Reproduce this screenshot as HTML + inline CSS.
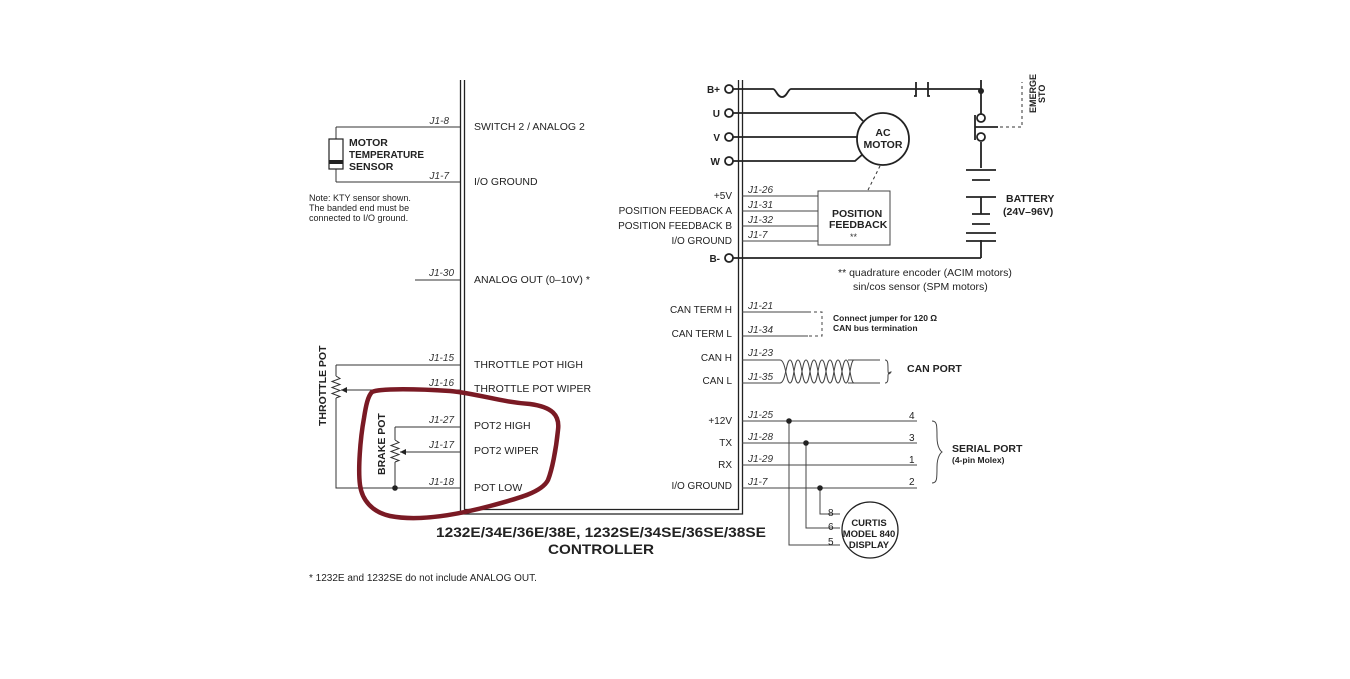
<!DOCTYPE html>
<html><head><meta charset="utf-8"><style>
html,body{margin:0;padding:0;background:#fff;}
svg{display:block;font-family:"Liberation Sans",Arial,sans-serif;}
.l{font-size:10.5px;fill:#222;}
.j{font-size:10px;font-style:italic;fill:#333;}
.b{font-size:10.5px;font-weight:bold;fill:#222;}
</style></head><body>
<svg width="1350" height="679" viewBox="0 0 1350 679" xmlns="http://www.w3.org/2000/svg">
<g stroke="#222" fill="none" stroke-width="1.3">
<path d="M460.5 80V514H742.5V80"/>
<path d="M464.5 80V509.5H738.5V80"/>
</g>
<g stroke="#333" stroke-width="1" fill="none">
<line x1="336" y1="127" x2="460" y2="127"/>
<line x1="336" y1="182" x2="460" y2="182"/>
<line x1="336" y1="127" x2="336" y2="182"/>
<line x1="415" y1="280" x2="460" y2="280"/>
<path d="M336 365H460M341 390H460M336 365V376M336 398V488H460"/>
<path d="M336 376l4 2.5-8 3 8 3-8 3 8 3-8 3 8 3-4 1.5"/>
<path d="M395 427H460M400 452H460M395 427V440M395 462V488"/>
<path d="M395 440l4 2.5-8 3 8 3-8 3 8 3-8 3 8 3-4 1.5"/>
</g>
<polygon points="341,390 347,387 347,393" fill="#222"/>
<polygon points="400,452 406,449 406,455" fill="#222"/>
<circle cx="395" cy="488" r="2.8" fill="#222"/>
<rect x="329" y="139" width="14" height="30" fill="#fff" stroke="#222" stroke-width="1.2"/>
<rect x="329" y="160" width="14" height="4" fill="#222"/>
<text class="b" x="349" y="146">MOTOR</text>
<text class="b" x="349" y="158" textLength="75" lengthAdjust="spacingAndGlyphs">TEMPERATURE</text>
<text class="b" x="349" y="170">SENSOR</text>
<text x="309" y="201" style="font-size:9px" fill="#222">Note:  KTY sensor shown.</text>
<text x="309" y="211" style="font-size:9px" fill="#222">The banded end must be</text>
<text x="309" y="221" style="font-size:9px" fill="#222">connected to I/O ground.</text>
<text class="j" x="449" y="124" text-anchor="end">J1-8</text>
<text class="j" x="449" y="179" text-anchor="end">J1-7</text>
<text class="j" x="454" y="276" text-anchor="end">J1-30</text>
<text class="j" x="454" y="361" text-anchor="end">J1-15</text>
<text class="j" x="454" y="386" text-anchor="end">J1-16</text>
<text class="j" x="454" y="423" text-anchor="end">J1-27</text>
<text class="j" x="454" y="448" text-anchor="end">J1-17</text>
<text class="j" x="454" y="485" text-anchor="end">J1-18</text>
<text class="b" transform="translate(326,426) rotate(-90)">THROTTLE POT</text>
<text class="b" transform="translate(385,475) rotate(-90)">BRAKE POT</text>
<text class="l" x="474" y="130">SWITCH 2 / ANALOG 2</text>
<text class="l" x="474" y="185">I/O GROUND</text>
<text class="l" x="474" y="283">ANALOG OUT (0–10V) *</text>
<text class="l" x="474" y="368">THROTTLE POT HIGH</text>
<text class="l" x="474" y="392">THROTTLE POT WIPER</text>
<text class="l" x="474" y="429">POT2 HIGH</text>
<text class="l" x="474" y="454">POT2 WIPER</text>
<text class="l" x="474" y="491">POT LOW</text>
<g class="b" text-anchor="end" style="font-size:10px">
<text x="720" y="93">B+</text><text x="720" y="117">U</text><text x="720" y="141">V</text><text x="720" y="165">W</text><text x="720" y="262">B-</text>
</g>
<g class="l" text-anchor="end" style="font-size:10px">
<text x="732" y="199">+5V</text>
<text x="732" y="214">POSITION FEEDBACK A</text>
<text x="732" y="229">POSITION FEEDBACK B</text>
<text x="732" y="244">I/O GROUND</text>
<text x="732" y="313">CAN TERM H</text>
<text x="732" y="337">CAN TERM L</text>
<text x="732" y="361">CAN H</text>
<text x="732" y="384">CAN L</text>
<text x="732" y="424">+12V</text>
<text x="732" y="446">TX</text>
<text x="732" y="468">RX</text>
<text x="732" y="489">I/O GROUND</text>
</g>
<g stroke="#222" stroke-width="1.8" fill="#fff">
<line x1="733" y1="89" x2="773" y2="89"/>
<path d="M773 89c3 0 4 8 9 8s6-8 9-8H916" fill="none"/>
<path d="M916 82v14h-2M928 82v14h2M916 89H928" fill="none"/>
<line x1="928" y1="89" x2="981" y2="89"/>
<path d="M733 113H855L863 121M733 137H857M733 161H855L863 154" fill="none"/>
<line x1="733" y1="258" x2="981" y2="258"/>
<path d="M981 80V114M981 142V168M981 240V258" fill="none"/>
<circle cx="729" cy="89" r="4"/><circle cx="729" cy="113" r="4"/><circle cx="729" cy="137" r="4"/><circle cx="729" cy="161" r="4"/><circle cx="729" cy="258" r="4"/>
<circle cx="981" cy="118" r="4"/><circle cx="981" cy="137" r="4"/>
<path d="M975 115V140M975 127H998" fill="none"/>
<circle cx="883" cy="139" r="26"/>
</g>
<circle cx="981" cy="91" r="3" fill="#222"/>
<g stroke="#222" stroke-width="1.8">
<line x1="966" y1="170" x2="996" y2="170"/><line x1="972" y1="180" x2="990" y2="180"/>
<line x1="966" y1="197" x2="996" y2="197"/><line x1="981" y1="197" x2="981" y2="214"/><line x1="972" y1="214" x2="990" y2="214"/>
<line x1="972" y1="224" x2="990" y2="224"/><line x1="966" y1="233" x2="996" y2="233"/><line x1="966" y1="241" x2="996" y2="241"/>
</g>
<path d="M1000 127H1022V82M868 190L880 166" stroke="#333" stroke-dasharray="3,3" fill="none"/>
<text class="b" x="883" y="136" text-anchor="middle">AC</text>
<text class="b" x="883" y="148" text-anchor="middle">MOTOR</text>
<text class="b" transform="translate(1036,113) rotate(-90)" style="font-size:9px">EMERGE</text>
<text class="b" transform="translate(1045,103) rotate(-90)" style="font-size:9px">STO</text>
<text class="b" x="1006" y="202">BATTERY</text>
<text class="b" x="1003" y="215">(24V–96V)</text>
<g stroke="#444" stroke-width="1" fill="none">
<rect x="818" y="191" width="72" height="54" fill="#fff"/>
<path d="M742 196H818M742 211H818M742 226H818M742 241H818"/>
<path d="M742 312H808M742 336H808"/>
<path d="M808 312H822V336H808" stroke-dasharray="3,3"/>
<path d="M742 421H917M742 443H917M742 465H917M742 488H917"/>
<path d="M789 421V545H840M806 443V528H840M820 488V514H840"/>
<path d="M742 360H780M742 383H780M848 360H880M848 383H880"/>
<path d="M780 360c6 0 6 23 10 23s4-23 8-23 4 23 8 23 4-23 8-23 4 23 8 23 4-23 8-23 4 23 8 23 4-23 8-23 4 23 8 23"/>
<path d="M780 383c6 0 6-23 10-23s4 23 8 23 4-23 8-23 4 23 8 23 4-23 8-23 4 23 8 23 4-23 8-23 4 23 8 23 4-23 8-23"/>
<path d="M885 360c3 0 3 3 3 10s3 2 3 2 -3 0-3 4 0 7-3 7"/>
<path d="M932 421c5 0 5 4 5 16s5 15 5 15-5 3-5 15 0 16-5 16"/>
</g>
<circle cx="789" cy="421" r="2.8" fill="#222"/><circle cx="806" cy="443" r="2.8" fill="#222"/><circle cx="820" cy="488" r="2.8" fill="#222"/>
<circle cx="870" cy="530" r="28" fill="#fff" stroke="#222" stroke-width="1.3"/>
<text class="b" x="869" y="526" text-anchor="middle" style="font-size:9.5px">CURTIS</text>
<text class="b" x="869" y="537" text-anchor="middle" style="font-size:9.5px">MODEL 840</text>
<text class="b" x="869" y="548" text-anchor="middle" style="font-size:9.5px">DISPLAY</text>
<g class="l" style="font-size:10px"><text x="828" y="516">8</text><text x="828" y="530">6</text><text x="828" y="545">5</text>
<text x="909" y="419">4</text><text x="909" y="441">3</text><text x="909" y="463">1</text><text x="909" y="485">2</text></g>
<text class="b" x="832" y="217" style="font-size:10.5px">POSITION</text>
<text class="b" x="829" y="228" style="font-size:10.5px">FEEDBACK</text>
<text x="850" y="240" fill="#333" style="font-size:9px">**</text>
<g class="j"><text x="748" y="193">J1-26</text><text x="748" y="208">J1-31</text><text x="748" y="223">J1-32</text><text x="748" y="238">J1-7</text>
<text x="748" y="309">J1-21</text><text x="748" y="333">J1-34</text><text x="748" y="356">J1-23</text><text x="748" y="380">J1-35</text>
<text x="748" y="418">J1-25</text><text x="748" y="440">J1-28</text><text x="748" y="462">J1-29</text><text x="748" y="485">J1-7</text></g>
<text x="838" y="276" class="l" style="font-size:10.5px">** quadrature encoder (ACIM motors)</text>
<text x="853" y="290" class="l" style="font-size:10.5px">sin/cos sensor (SPM motors)</text>
<text class="b" x="833" y="321" style="font-size:8.5px">Connect jumper for 120 Ω</text>
<text class="b" x="833" y="331" style="font-size:8.5px">CAN bus termination</text>
<text class="b" x="907" y="372">CAN PORT</text>
<text class="b" x="952" y="452">SERIAL PORT</text>
<text class="b" x="952" y="463" style="font-size:8.5px">(4-pin Molex)</text>
<text x="436" y="537" textLength="330" lengthAdjust="spacingAndGlyphs" style="font-size:14px;font-weight:bold" fill="#222">1232E/34E/36E/38E,  1232SE/34SE/36SE/38SE</text>
<text x="548" y="554" textLength="106" lengthAdjust="spacingAndGlyphs" style="font-size:14px;font-weight:bold" fill="#222">CONTROLLER</text>
<text x="309" y="581" class="l" style="font-size:10px">* 1232E and 1232SE do not include ANALOG OUT.</text>
<path d="M372 392C380 388 420 389 450 391C480 394 500 402 530 404C552 407 560 415 558 430C556 450 552 470 548 480C542 492 520 498 490 506C460 514 420 522 390 516C372 512 362 500 360 485C358 470 360 440 364 418C366 405 368 396 372 392Z" stroke="#7a1a24" stroke-width="4.5" fill="none"/>
</svg>
</body></html>
